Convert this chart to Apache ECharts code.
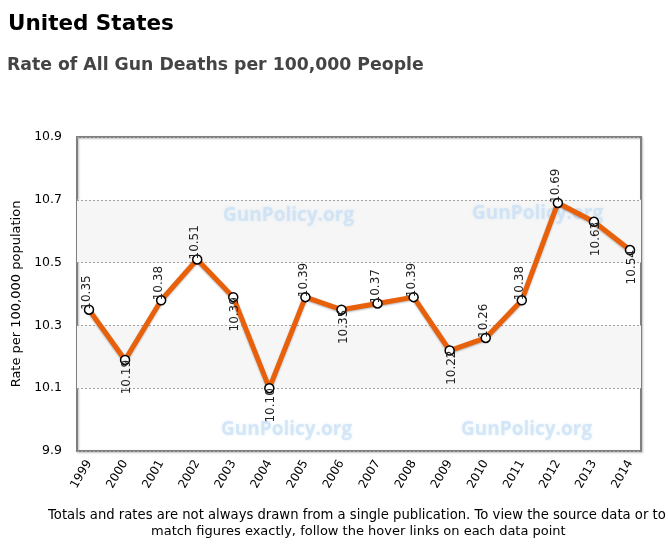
<!DOCTYPE html>
<html><head><meta charset="utf-8">
<script src="https://cdn.jsdelivr.net/npm/echarts@6/dist/echarts.min.js"></script>
<style>html,body{margin:0;padding:0;background:#fff}#c{width:668px;height:552px}</style>
</head><body><div id="c"></div>
<script>
const years = ['1999','2000','2001','2002','2003','2004','2005','2006','2007','2008','2009','2010','2011','2012','2013','2014'];
const rates = [10.35,10.19,10.38,10.51,10.39,10.10,10.39,10.35,10.37,10.39,10.22,10.26,10.38,10.69,10.63,10.54];
const yTicks = [9.9,10.1,10.3,10.5,10.7,10.9];
const titleText = 'United States';
const subtitleText = 'Rate of All Gun Deaths per 100,000 People';
const yAxisName = 'Rate per 100,000 population';
const footer1 = 'Totals and rates are not always drawn from a single publication. To view the source data or to';
const footer2 = 'match figures exactly, follow the hover links on each data point';
const watermark = 'GunPolicy.org';

const seriesData = rates.map((v, i) => {
  const below = i > 0 && v < rates[i - 1];
  return {
    value: v,
    label: { align: below ? 'right' : 'left', offset: [0, below ? 2 : -2] }
  };
});

const chart = echarts.init(document.getElementById('c'), null, { renderer: 'canvas' });
const wmStyle = { fontSize: 19, fontWeight: 'bold', fontFamily: 'Open Sans', fill: 'rgba(195,220,243,0.6)', textShadowColor: 'rgba(200,225,245,0.9)', textShadowBlur: 3 };
chart.setOption({
  animation: false,
  title: [
    { text: titleText, left: 3, top: 8, textStyle: { fontSize: 21.5, fontWeight: 'bold', fontFamily: 'DejaVu Sans', color: '#000' } },
    { text: subtitleText, left: 2, top: 52, textStyle: { fontSize: 17.3, fontWeight: 'bold', fontFamily: 'DejaVu Sans', color: '#444' } }
  ],
  grid: [
    { left: 77, right: 27, top: 137, bottom: 101, show: true, borderColor: '#7f7f7f', borderWidth: 2, backgroundColor: 'transparent', shadowColor: 'rgba(0,0,0,0.25)', shadowBlur: 2, shadowOffsetX: 1, shadowOffsetY: 1 },
    { left: 89, right: 38, top: 137, bottom: 101 }
  ],
  xAxis: [
    { gridIndex: 0, type: 'category', data: years, show: false },
    { gridIndex: 1, type: 'category', data: years, boundaryGap: false,
      axisLine: { show: false }, axisTick: { show: false }, splitLine: { show: false },
      axisLabel: { rotate: 60, margin: 10, fontSize: 12, fontFamily: 'DejaVu Sans', color: '#000', interval: 0 } }
  ],
  yAxis: [
    { gridIndex: 0, type: 'value', min: 9.9, max: 10.9,
      name: yAxisName, nameLocation: 'middle', nameGap: 44,
      nameTextStyle: { fontSize: 13, fontFamily: 'DejaVu Sans', color: '#000' },
      axisLine: { show: false },
      axisTick: { show: false, customValues: yTicks },
      axisLabel: { customValues: yTicks, margin: 15, fontSize: 12.5, fontFamily: 'DejaVu Sans', color: '#000', formatter: v => v.toFixed(1) },
      splitLine: { show: true, lineStyle: { color: '#a0a0a0', type: [2, 2], width: 1 } },
      splitArea: { show: true, areaStyle: { color: ['rgba(255,255,255,0)', '#f6f6f6'] } } },
    { gridIndex: 1, type: 'value', min: 9.9, max: 10.9, show: false }
  ],
  graphic: [
    { type: 'text', left: 223, top: 206, z: 1, style: Object.assign({ text: watermark }, wmStyle) },
    { type: 'text', left: 472, top: 204, z: 1, style: Object.assign({ text: watermark }, wmStyle) },
    { type: 'text', left: 221, top: 420, z: 1, style: Object.assign({ text: watermark }, wmStyle) },
    { type: 'text', left: 461, top: 420, z: 1, style: Object.assign({ text: watermark }, wmStyle) },
    { type: 'text', left: 48, top: 509, style: { text: footer1, fontSize: 13.2, fontFamily: 'DejaVu Sans', fill: '#000' } },
    { type: 'text', left: 151, top: 525, style: { text: footer2, fontSize: 13, fontFamily: 'DejaVu Sans', fill: '#000' } }
  ],
  series: [{
    type: 'line', xAxisIndex: 1, yAxisIndex: 1, data: seriesData, z: 5,
    lineStyle: { color: '#e8600a', width: 5, shadowColor: 'rgba(0,0,0,0.3)', shadowBlur: 2, shadowOffsetY: 1 },
    symbol: 'circle', symbolSize: 9,
    itemStyle: { color: '#fff', borderColor: '#000', borderWidth: 1.5 },
    label: { show: true, position: 'inside', rotate: 90, verticalAlign: 'middle', fontSize: 12, fontFamily: 'DejaVu Sans', color: '#222', formatter: p => p.value.toFixed(2) }
  }]
});
</script></body></html>
